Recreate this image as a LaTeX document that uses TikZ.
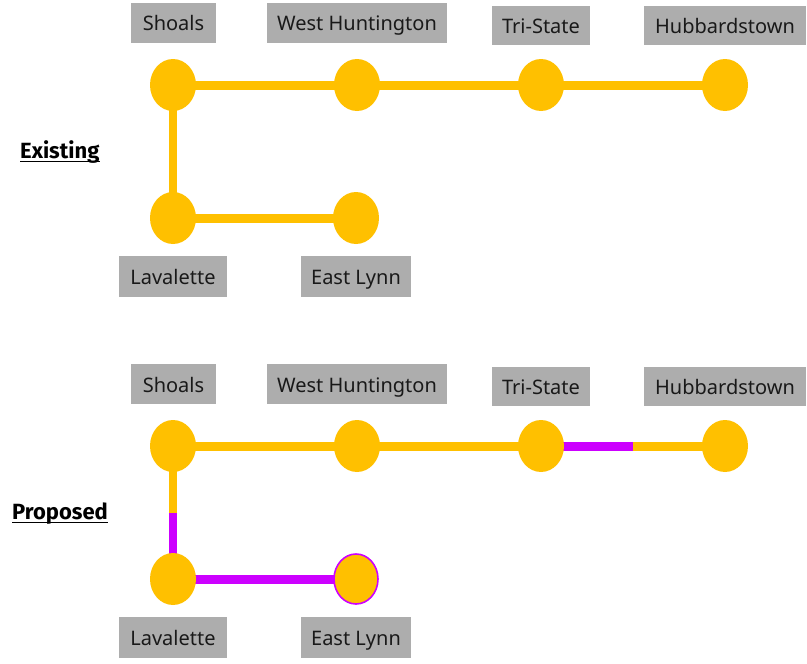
\documentclass[tikz,border=0pt]{standalone}
\usepackage{fontspec}
\setmainfont{Noto Sans}
\newfontfamily\headfont{Fira Sans}
\usetikzlibrary{shapes.geometric,backgrounds}
\definecolor{lineyellow}{HTML}{FFC000}
\definecolor{linemagenta}{HTML}{CC00FF}
\definecolor{labelgray}{HTML}{ADADAD}
\tikzset{
  station/.style={ellipse, fill=lineyellow, draw=none, minimum width=46pt, minimum height=52pt, inner sep=0pt},
  newstation/.style={station, draw=linemagenta, line width=1.6pt, minimum width=44pt, minimum height=50pt},
  tag/.style={fill=labelgray, inner sep=0pt, minimum height=40pt, text height=17pt, text depth=1pt,
    font=\fontsize{20}{24}\selectfont, text=black!90},
  track/.style={line width=9pt, lineyellow},
  newtrack/.style={line width=9pt, linemagenta},
  heading/.style={font=\headfont\bfseries\fontsize{22}{26}\selectfont, anchor=base west, inner sep=0pt},
  underline/.style={line width=1.5pt, black}
}
\begin{document}
\begin{tikzpicture}[x=1pt, y=-1pt]
\useasboundingbox (0,0) rectangle (807,664);

% ---- Existing layout ----
\node[heading] (hexist) at (20,158) {Existing};
\draw[underline] ([yshift=-3.5pt]hexist.base west) -- ([yshift=-3.5pt]hexist.base east);

\node[station] (shoalsA) at (173,85) {};
\node[station] (westA) at (357,85) {};
\node[station] (triA) at (541,85) {};
\node[station] (hubA) at (725,85) {};
\node[station] (lavA) at (173,218) {};
\node[station] (lynnA) at (356,218) {};

\node[tag, minimum width=85pt] (tshoalsA) at (173.5,22.5) {Shoals};
\node[tag, minimum width=180pt] (twestA) at (357,22.5) {West Huntington};
\node[tag, minimum width=98pt, minimum height=39pt] (ttriA) at (541,25.5) {Tri-State};
\node[tag, minimum width=162pt, minimum height=39pt] (thubA) at (725,25.5) {Hubbardstown};
\node[tag, minimum width=108pt, minimum height=41pt] (tlavA) at (173,276.5) {Lavalette};
\node[tag, minimum width=110pt, minimum height=41pt] (tlynnA) at (356,276.5) {East Lynn};

\begin{scope}[on background layer]
  \draw[track] (shoalsA.center) -- (westA.center);
  \draw[track] (westA.center) -- (triA.center);
  \draw[track] (triA.center) -- (hubA.center);
  \draw[track, line width=8pt] (shoalsA.center) -- (lavA.center);
  \draw[track] (lavA.center) -- (lynnA.center);
\end{scope}

% ---- Proposed layout ----
\node[heading] (hprop) at (12,519) {Proposed};
\draw[underline] ([yshift=-3.5pt]hprop.base west) -- ([yshift=-3.5pt]hprop.base east);

\node[station] (shoalsB) at (173,446) {};
\node[station] (westB) at (357,446) {};
\node[station] (triB) at (541,446) {};
\node[station] (hubB) at (725,446) {};
\node[station] (lavB) at (173,579) {};
\node[newstation] (lynnB) at (356,579) {};

\node[tag, minimum width=85pt] (tshoalsB) at (173.5,384) {Shoals};
\node[tag, minimum width=180pt] (twestB) at (357,384) {West Huntington};
\node[tag, minimum width=98pt, minimum height=39pt] (ttriB) at (541,386.5) {Tri-State};
\node[tag, minimum width=162pt, minimum height=39pt] (thubB) at (725,386.5) {Hubbardstown};
\node[tag, minimum width=108pt, minimum height=41pt] (tlavB) at (173,637.5) {Lavalette};
\node[tag, minimum width=110pt, minimum height=41pt] (tlynnB) at (356,637.5) {East Lynn};

\coordinate (splitV) at (173,513);
\coordinate (splitH) at (633,446);

\begin{scope}[on background layer]
  \draw[track] (shoalsB.center) -- (westB.center);
  \draw[track] (westB.center) -- (triB.center);
  \draw[newtrack] (triB.center) -- (splitH);
  \draw[track] (splitH) -- (hubB.center);
  \draw[track, line width=8pt] (shoalsB.center) -- (splitV);
  \draw[newtrack, line width=8pt] (splitV) -- (lavB.center);
  \draw[newtrack] (lavB.center) -- (lynnB.center);
\end{scope}
\end{tikzpicture}
\end{document}
